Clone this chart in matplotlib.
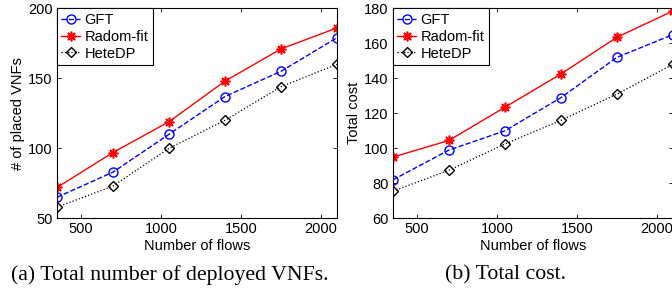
import matplotlib
matplotlib.use("Agg")
import matplotlib.pyplot as plt

# Data
flows = [350, 700, 1050, 1400, 1750, 2100]

vnf_gft = [65, 83, 110, 137, 155, 179]
vnf_radom = [72, 97, 119, 148, 171, 186]
vnf_hetedp = [58, 73, 100, 120, 144, 160]

cost_gft = [82, 99, 110, 129, 152, 165]
cost_radom = [95, 104.5, 123.5, 142.5, 163.5, 178.5]
cost_hetedp = [75.5, 87.5, 102.5, 116, 131, 148]

plt.rcParams['font.family'] = ['Liberation Sans', 'DejaVu Sans']
plt.rcParams['font.size'] = 10.5

fig = plt.figure(figsize=(6.72, 2.97), dpi=100)
ax1 = fig.add_axes([0.0848, 0.265, 0.4167, 0.707])
ax2 = fig.add_axes([0.5848, 0.265, 0.4167, 0.707])


def draw(ax, gft, radom, hetedp, ylim, yticks, ylabel):
    ax.plot(flows, gft, '--o', color='blue', mfc='none', ms=6.5, mew=1, lw=1, label='GFT')
    ax.plot(flows, radom, '-', marker=(8, 2, 0), color='red', ms=7, mew=1.2, lw=1, label='Radom-fit')
    ax.plot(flows, hetedp, ':D', color='black', mfc='none', ms=5.5, mew=1, lw=0.9, label='HeteDP')
    ax.set_xlim(350, 2100)
    ax.set_ylim(*ylim)
    ax.set_xticks([500, 1000, 1500, 2000])
    ax.set_yticks(yticks)
    ax.tick_params(direction='in', top=True, right=True, length=3, width=0.6, pad=3)
    for s in ax.spines.values():
        s.set_linewidth(0.8)
    ax.set_xlabel('Number of flows', labelpad=2)
    ax.set_ylabel(ylabel, labelpad=2)
    leg = ax.legend(loc='upper left', fancybox=False, framealpha=1, edgecolor='black',
                    borderaxespad=0, handlelength=1.3, handletextpad=0.3,
                    labelspacing=0.2, borderpad=0.3)
    leg.get_frame().set_linewidth(0.8)


draw(ax1, vnf_gft, vnf_radom, vnf_hetedp, (50, 200), [50, 100, 150, 200], '# of placed VNFs')
draw(ax2, cost_gft, cost_radom, cost_hetedp, (60, 180), [60, 80, 100, 120, 140, 160, 180], 'Total cost')

fig.text(0.252, 0.074, '(a) Total number of deployed VNFs.', ha='center', va='center',
         family='Liberation Serif', fontsize=15.7)
fig.text(0.752, 0.074, '(b) Total cost.', ha='center', va='center',
         family='Liberation Serif', fontsize=15.7)

fig.savefig('out.png', dpi=100)
